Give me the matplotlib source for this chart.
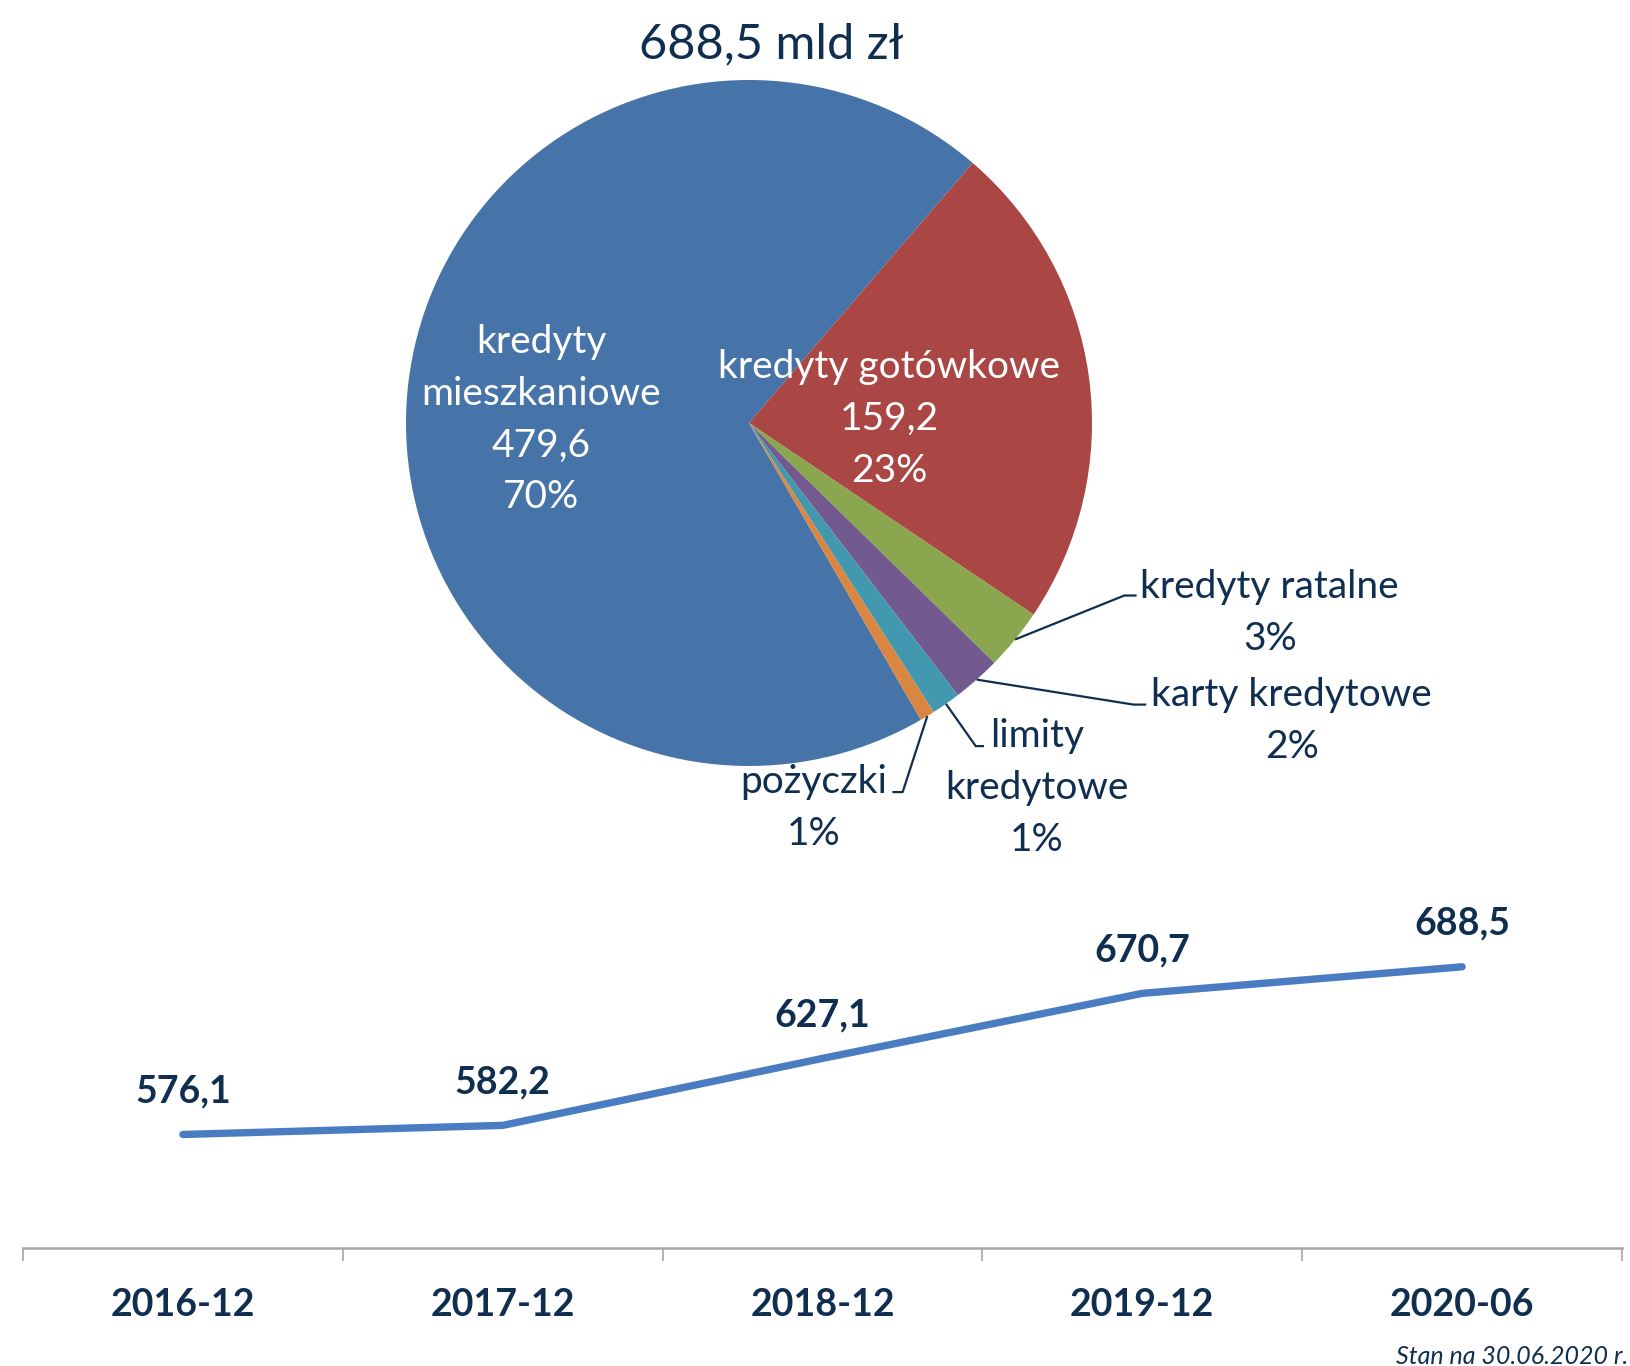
import numpy as np
import matplotlib
matplotlib.use("Agg")
import matplotlib.pyplot as plt

plt.rcParams['font.family'] = ['Lato', 'DejaVu Sans']

# structure of the loan portfolio, bn PLN (2020-06)
labels = ["kredyty\nmieszkaniowe", "kredyty gotówkowe", "kredyty ratalne",
          "karty kredytowe", "limity\nkredytowe", "pożyczki"]
values = [479.6, 159.2, 19.9, 15.6, 9.4, 4.8]
colors = ["#4674A8", "#AA4644", "#8AA64E", "#725A8E", "#4298AF", "#DA8640"]
total = 688.5

# total portfolio over time
periods = ["2016-12", "2017-12", "2018-12", "2019-12", "2020-06"]
totals = [576.1, 582.2, 627.1, 670.7, 688.5]

NAVY = "#0F2E50"
W, H = 1631, 1366
fig = plt.figure(figsize=(W / 100, H / 100), dpi=100)

# ---- pie
cx, cy, r = 749, 423, 343
ax = fig.add_axes([(cx - r) / W, (H - cy - r) / H, 2 * r / W, 2 * r / H])
# blue/red boundary sits at ~49 deg, slices run clockwise
start = 49.3 + 360 * values[0] / sum(values)
wedges, _ = ax.pie(values, colors=colors, startangle=start, counterclock=False,
                   radius=1, wedgeprops=dict(linewidth=0))
ax.set_xlim(-1, 1)
ax.set_ylim(-1, 1)
ax.set_aspect("equal")
ax.axis("off")

pct = [round(v / total * 100) for v in values]
fmt = lambda v: f"{v:.1f}".replace(".", ",")
LS = 1.55

# inside labels
ax.text(-0.606, 0.01, f"{labels[0]}\n{fmt(values[0])}\n{pct[0]}%", color="white",
        ha="center", va="center", fontsize=28, linespacing=LS)
ax.text(0.409, 0.012, f"{labels[1]}\n{fmt(values[1])}\n{pct[1]}%", color="white",
        ha="center", va="center", fontsize=28, linespacing=LS)

# outside labels with leader lines: (label pos, elbow, end)
outside = {
    2: ((1.518, -0.553), (1.094, -0.503), (1.130, -0.503)),
    3: ((1.582, -0.868), (1.121, -0.821), (1.158, -0.821)),
    4: ((0.839, -1.065), (0.661, -0.942), (0.685, -0.942)),
    5: ((0.188, -1.122), (0.448, -1.076), (0.418, -1.076)),
}
for i, (pos, elbow, end) in outside.items():
    w = wedges[i]
    mid = np.deg2rad((w.theta1 + w.theta2) / 2)
    sx, sy = np.cos(mid), np.sin(mid)
    ax.plot([sx, elbow[0], end[0]], [sy, elbow[1], end[1]], color=NAVY, lw=1.6,
            clip_on=False, solid_capstyle="butt")
    ax.text(pos[0], pos[1], f"{labels[i]}\n{pct[i]}%", color=NAVY, ha="center",
            va="center", fontsize=28, linespacing=LS)

fig.text(771 / W, 1 - 44 / H, f"{fmt(total)} mld zł", color=NAVY, ha="center",
         va="center", fontsize=35)

# ---- line
lx0, lx1, ly0, ly1 = 23, 1622, 1248, 884
lax = fig.add_axes([lx0 / W, (H - ly0) / H, (lx1 - lx0) / W, (ly0 - ly1) / H])
x = np.arange(len(periods))
lax.plot(x, totals, color="#4A7CC2", lw=5.3, solid_capstyle="round",
         solid_joinstyle="round", clip_on=False)
for xi, v in zip(x, totals):
    lax.annotate(fmt(v), (xi, v), xytext=(0, 31), textcoords="offset points",
                 ha="center", va="center", fontsize=27, fontweight="bold",
                 color=NAVY)
lax.set_xlim(-0.5, len(periods) - 0.5)
lax.set_ylim(500, 744)
for s in ["top", "right", "left"]:
    lax.spines[s].set_visible(False)
lax.spines["bottom"].set_color("#A6A6A6")
lax.spines["bottom"].set_linewidth(1.8)
lax.set_yticks([])
lax.set_xticks(np.arange(len(periods) + 1) - 0.5)
lax.set_xticklabels([])
lax.tick_params(axis="x", which="major", length=9, width=1.2, color="#A6A6A6",
                direction="out")
lax.set_xticks(x, minor=True)
lax.set_xticklabels(periods, minor=True, fontsize=27, fontweight="bold", color=NAVY)
lax.tick_params(axis="x", which="minor", length=0, pad=29)

fig.text(1628 / W, 1 - 1356 / H, "Stan na 30.06.2020 r.", ha="right", va="center",
         fontsize=18, style="italic", color=NAVY)

fig.savefig("out.png", dpi=100)
